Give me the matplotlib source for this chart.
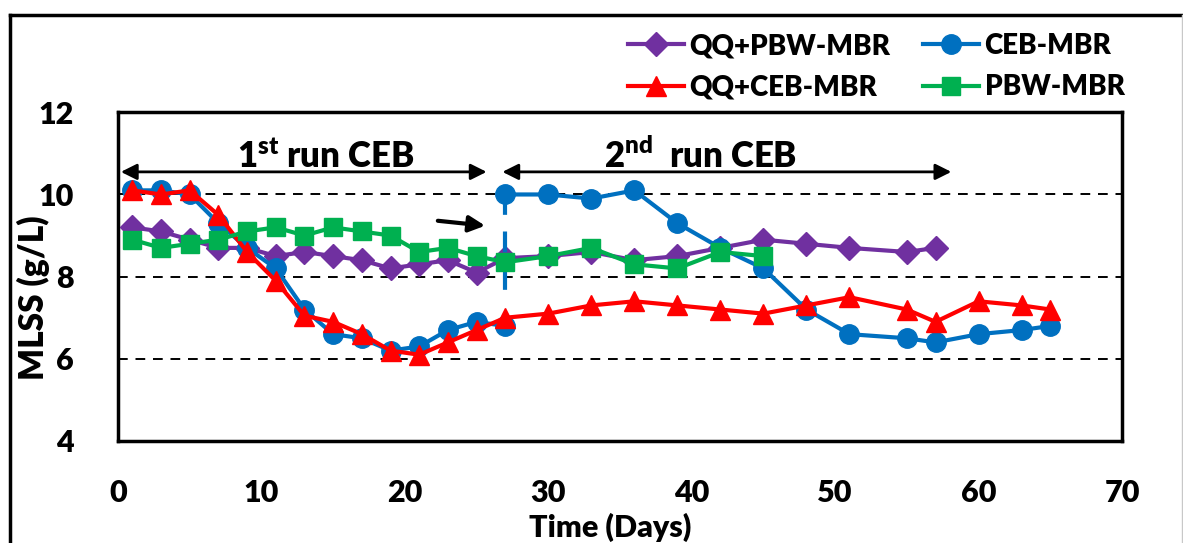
import matplotlib
matplotlib.use("Agg")
import matplotlib.pyplot as plt
from matplotlib.lines import Line2D

# ---------------- data ----------------
qq_pbw_days = [1, 3, 5, 7, 9, 11, 13, 15, 17, 19, 21, 23, 25, 27,
               30, 33, 36, 39, 42, 45, 48, 51, 55, 57]
qq_pbw_mlss = [9.2, 9.1, 8.9, 8.7, 8.7, 8.5, 8.6, 8.5, 8.4, 8.2, 8.3, 8.4, 8.1, 8.45,
               8.5, 8.6, 8.4, 8.5, 8.7, 8.9, 8.8, 8.7, 8.6, 8.7]

ceb_days_run1 = [1, 3, 5, 7, 9, 11, 13, 15, 17, 19, 21, 23, 25, 27]
ceb_mlss_run1 = [10.1, 10.1, 10.0, 9.3, 8.7, 8.2, 7.2, 6.6, 6.5, 6.2, 6.3, 6.7, 6.9, 6.8]
ceb_days_run2 = [27, 30, 33, 36, 39, 42, 45, 48, 51, 55, 57, 60, 63, 65]
ceb_mlss_run2 = [10.0, 10.0, 9.9, 10.1, 9.3, 8.7, 8.2, 7.2, 6.6, 6.5, 6.4, 6.6, 6.7, 6.8]

qq_ceb_days = [1, 3, 5, 7, 9, 11, 13, 15, 17, 19, 21, 23, 25, 27,
               30, 33, 36, 39, 42, 45, 48, 51, 55, 57, 60, 63, 65]
qq_ceb_mlss = [10.1, 10.0, 10.1, 9.5, 8.6, 7.9, 7.05, 6.9, 6.6, 6.2, 6.1, 6.4, 6.7, 7.0,
               7.1, 7.3, 7.4, 7.3, 7.2, 7.1, 7.3, 7.5, 7.2, 6.9, 7.4, 7.3, 7.2]

pbw_days = [1, 3, 5, 7, 9, 11, 13, 15, 17, 19, 21, 23, 25, 27,
            30, 33, 36, 39, 42, 45]
pbw_mlss = [8.9, 8.7, 8.8, 8.9, 9.1, 9.2, 9.0, 9.2, 9.1, 9.0, 8.6, 8.7, 8.5, 8.35,
            8.5, 8.7, 8.3, 8.2, 8.6, 8.5]

x_ticks = [0, 10, 20, 30, 40, 50, 60, 70]
y_ticks = [4, 6, 8, 10, 12]

run1_span = (0.2, 25.7)
run2_span = (26.8, 58.1)
# ---------------------------------------

WT = 'heavy'
plt.rcParams['font.family'] = ['Lato', 'DejaVu Sans']
plt.rcParams['font.weight'] = WT
plt.rcParams['mathtext.fontset'] = 'custom'
plt.rcParams['mathtext.rm'] = 'Lato:heavy'
plt.rcParams['mathtext.it'] = 'Lato:heavy'
plt.rcParams['mathtext.bf'] = 'Lato:heavy'

W, H = 1183, 543
fig = plt.figure(figsize=(W / 100, H / 100), dpi=100)
ax = fig.add_axes([118 / W, 1 - 441 / H, 1004 / W, 328.7 / H])

purple, blue, red, green = '#7030A0', '#0070C0', '#FF0000', '#00B050'
lw = 3.0

ax.plot(qq_pbw_days, qq_pbw_mlss, color=purple, lw=lw, marker='D', ms=12,
        label='QQ+PBW-MBR', zorder=3)
ax.plot(ceb_days_run1, ceb_mlss_run1, color=blue, lw=lw, marker='o', ms=14,
        label='CEB-MBR', zorder=4)
ax.plot(ceb_days_run2, ceb_mlss_run2, color=blue, lw=lw, marker='o', ms=14, zorder=4)
ax.plot(qq_ceb_days, qq_ceb_mlss, color=red, lw=lw, marker='^', ms=15,
        label='QQ+CEB-MBR', zorder=5)
ax.plot(pbw_days, pbw_mlss, color=green, lw=lw, marker='s', ms=13,
        label='PBW-MBR', zorder=6)

# dashed connector for the restart of CEB-MBR
ax.plot([ceb_days_run2[0], ceb_days_run2[0]], [ceb_mlss_run2[0], 7.6],
        color=blue, lw=3, ls=(0, (5, 4)), zorder=3.5)

ax.set_xlim(0, 70)
ax.set_ylim(4, 12)
ax.set_xticks(x_ticks)
ax.set_yticks(y_ticks)
ax.tick_params(axis='both', length=0, labelsize=22)
ax.tick_params(axis='x', pad=27)
ax.tick_params(axis='y', pad=32)
for lab in ax.get_xticklabels() + ax.get_yticklabels():
    lab.set_fontweight(WT)

ax.grid(axis='y', color='black', ls=(0, (5, 4)), lw=1.4, zorder=1)
for s in ax.spines.values():
    s.set_linewidth(2.5)
    s.set_color('black')

ax.set_xlabel('Time (Days)', fontsize=22, fontweight=WT)
ax.set_ylabel('MLSS (g/L)', fontsize=24, fontweight=WT)
ax.xaxis.set_label_coords(0.49, -0.22)
ax.yaxis.set_label_coords(-0.068, 0.435)

# run arrows
arrow_y = 10.55
for span in (run1_span, run2_span):
    ax.annotate('', xy=(span[0], arrow_y), xytext=(span[1], arrow_y),
                arrowprops=dict(arrowstyle='<|-|>', color='black', lw=2,
                                mutation_scale=24, shrinkA=0, shrinkB=0),
                zorder=7)
ax.text(14.5, 10.93, '1$^{st}$ run CEB', fontsize=25, fontweight=WT,
        ha='center', va='center')
ax.text(40.6, 10.93, '2$^{nd}$  run CEB', fontsize=25, fontweight=WT,
        ha='center', va='center')

# small pointer arrow
ax.annotate('', xy=(25.6, 9.24), xytext=(22.3, 9.36),
            arrowprops=dict(arrowstyle='-|>', color='black', lw=3,
                            mutation_scale=24, shrinkA=0, shrinkB=0), zorder=7)

# legend
handles, labels = ax.get_legend_handles_labels()
order = [0, 2, 1, 3]
leg = fig.legend([handles[i] for i in order], [labels[i] for i in order],
                 loc='upper left', bbox_to_anchor=(628 / W, 1 - 33 / H),
                 ncol=2, frameon=False, fontsize=20, handlelength=2.0,
                 handletextpad=0.2, columnspacing=1.2, labelspacing=0.55,
                 borderpad=0, borderaxespad=0)
for t in leg.get_texts():
    t.set_fontweight(WT)

# figure frame
fig.add_artist(Line2D([10 / W, 10 / W], [0, 1 - 15 / H], color='black', lw=2.5,
                      transform=fig.transFigure))
fig.add_artist(Line2D([10 / W, 1], [1 - 15 / H, 1 - 15 / H], color='black', lw=2.5,
                      transform=fig.transFigure))
fig.add_artist(Line2D([1181.5 / W, 1181.5 / W], [0, 1 - 15 / H], color='#c8c8c8', lw=1,
                      transform=fig.transFigure))

fig.savefig('out.png', dpi=100)
